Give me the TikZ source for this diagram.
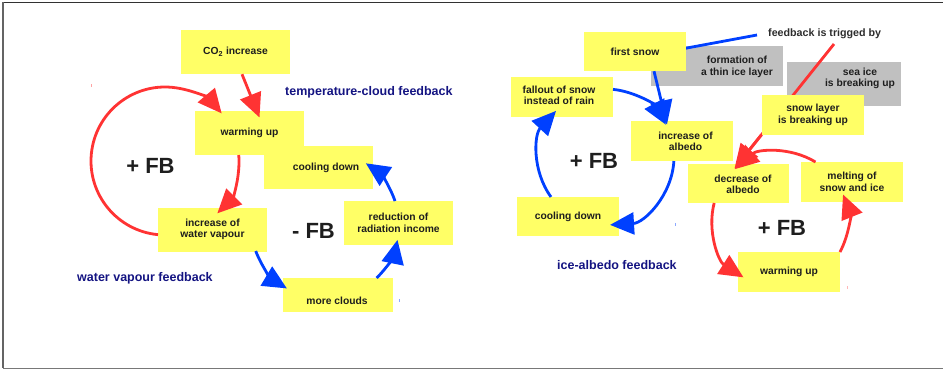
\documentclass[tikz,border=0pt]{standalone}
\usepackage{fontspec}
\setmainfont{Liberation Sans}
\usetikzlibrary{arrows.meta,calc}

\definecolor{noteyellow}{RGB}{255,255,102}
\definecolor{notegray}{RGB}{192,192,192}
\definecolor{fbred}{RGB}{255,51,51}
\definecolor{fbblue}{RGB}{0,64,255}
\definecolor{titlenavy}{RGB}{20,20,130}
\definecolor{inktext}{RGB}{30,30,30}
\definecolor{trigink}{RGB}{45,45,45}

\newcommand\cardfont{\fontsize{10.3}{11.6}\selectfont\bfseries}
\newcommand\titlefont{\fontsize{12.5}{14}\selectfont\bfseries}
\newcommand\fbfont{\fontsize{22}{24}\selectfont\bfseries}

\tikzset{
  card/.style={fill=noteyellow, inner sep=0pt, align=center, text=inktext, font=\cardfont},
  slab/.style={fill=notegray, inner sep=0pt},
  cardtext/.style={inner sep=0pt, align=center, text=inktext, font=\cardfont},
  looptitle/.style={inner sep=0pt, anchor=west, text=titlenavy, font=\titlefont},
  fblabel/.style={inner sep=0pt, text=inktext, font=\fbfont},
  bigtip/.style={-{Triangle[length=24pt,width=22pt]}},
  redarrow/.style={draw=fbred, line width=2.8pt, bigtip},
  bluearrow/.style={draw=fbblue, line width=2.8pt, bigtip},
  redline/.style={draw=fbred, line width=2.8pt},
  blueline/.style={draw=fbblue, line width=2.8pt},
}

\begin{document}
\begin{tikzpicture}[x=1pt, y=-1pt]
\useasboundingbox (0,0) rectangle (943,369);

% frame
\draw[line width=1.3pt, draw={rgb,255:red,50;green,50;blue,50}] (943,2.5) -- (3,2.5);
\draw[line width=1.3pt, draw={rgb,255:red,100;green,100;blue,100}] (3,2.5) -- (3,368.3);
\draw[line width=1.3pt, draw={rgb,255:red,120;green,120;blue,120}] (3,368.3) -- (943,368.3);

% loop centres
\coordinate (cL) at (165,161);
\coordinate (cM) at (325,225);
\coordinate (cA) at (606,157);
\coordinate (cB) at (780,220);

% ---------------- grey trigger notes ----------------
\node[slab, minimum width=132pt, minimum height=40pt] (thin) at (717,66) {};
\node[cardtext] (thintxt) at (737,67) {formation of\\a thin ice layer};
\node[slab, minimum width=114pt, minimum height=44pt] (seaice) at (844,84) {};
\node[cardtext] (seaicetxt) at (860,78.5) {sea ice\\is breaking up};

\node[inner sep=0pt, anchor=west, text=trigink, font=\fontsize{10.7}{12}\selectfont\bfseries] (trig) at (768,34) {feedback is trigged by};
\coordinate (trigblue) at (757,35);
\coordinate (trigred) at (834,44);
\coordinate (bluein) at (640,56.7);
\coordinate (redtip) at (734.5,168.5);
\coordinate (redout) at ($(trigred)!0.731!(redtip)$);

% trigger lines run behind the yellow notes
\draw[blueline] (trigblue) -- (bluein);
\draw[redline] (trigred) -- (redtip);

% ---------------- yellow notes, left ----------------
\node[card, minimum width=109pt, minimum height=44pt] (co2) at (235.5,52) {CO\textsubscript{2} increase};
\node[card, minimum width=109pt, minimum height=43pt] (coolL) at (318.5,167.5) {};
\node[card, minimum width=109pt, minimum height=44pt] (warmL) at (249.5,133) {warming up};
\node[cardtext] (coolLtxt) at (326,168) {cooling down};
\node[card, minimum width=109pt, minimum height=44pt] (vapour) at (212.5,229.5) {increase of\\water vapour};
\node[card, minimum width=109pt, minimum height=44pt] (reduct) at (398.5,223) {reduction of\\radiation income};
\node[card, minimum width=110pt, minimum height=34pt] (clouds) at (338,295) {};
\node[cardtext] (cloudstxt) at (337,300.5) {more clouds};

% ---------------- yellow notes, right ----------------
\node[card, minimum width=102pt, minimum height=39pt] (snowfirst) at (635,51.5) {first snow};
\node[card, minimum width=102pt, minimum height=40pt] (snowlayer) at (813,115) {snow layer\\is breaking up};
\node[card, minimum width=102pt, minimum height=40pt] (fallout) at (562,97) {};
\node[cardtext] (fallouttxt) at (559,95.5) {fallout of snow\\instead of rain};
\node[card, minimum width=102pt, minimum height=40pt] (incalb) at (682,141) {};
\node[cardtext] (incalbtxt) at (685.5,141.5) {increase of\\albedo};
\node[card, minimum width=102pt, minimum height=39pt] (coolR) at (568,216.5) {cooling down};
\node[card, minimum width=101pt, minimum height=39pt] (decalb) at (738.5,183.5) {};
\node[cardtext] (decalbtxt) at (743,184.5) {decrease of\\albedo};
\node[card, minimum width=102pt, minimum height=40pt] (melt) at (852,182) {melting of\\snow and ice};
\node[card, minimum width=102pt, minimum height=40pt] (warmR) at (789,272) {warming up};

% ---------------- water vapour loop (+) ----------------
\draw[redarrow] (co2.south -| 242,0) -- (259.5,117.5) coordinate (co2tip);
\draw[redarrow] ($(cL)+(-264.6:74)$) arc[start angle=-264.6, end angle=-40, radius=74];
\draw[redarrow] ($(cL)+(-4.65:74)$) arc[start angle=-4.65, end angle=45, radius=74];

% ---------------- temperature-cloud loop (-) ----------------
\draw[bluearrow] ($(cM)+(-200.6:74)$) arc[start angle=-200.6, end angle=-239, radius=74];
\draw[bluearrow] ($(cM)+(-314.3:74)$) arc[start angle=-314.3, end angle=-348.4, radius=74];
\draw[bluearrow] ($(cM)+(-18.9:74)$) arc[start angle=-18.9, end angle=-56.5, radius=74];

% ---------------- ice-albedo loop (+) ----------------
\draw[bluearrow] (snowfirst.south -| 654,0) -- (667,124.5) coordinate (snowtip);
\draw[bluearrow] ($(cA)+(-84.1:68)$) arc[start angle=-84.1, end angle=-28.4, radius=68];
\draw[bluearrow] ($(cA)+(3.4:68)$) arc[start angle=3.4, end angle=86.6, radius=68];
\draw[bluearrow] ($(cA)+(-216:68)$) arc[start angle=-216, end angle=-137.3, radius=68];

% ---------------- melting loop (+) ----------------
\draw[redarrow] (redout) -- (redtip);
\draw[redarrow] ($(cB)+(-58.5:68)$) arc[start angle=-58.5, end angle=-131.6, radius=68];
\draw[redarrow] ($(cB)+(-165.5:68)$) arc[start angle=-165.5, end angle=-237.5, radius=68];
\draw[redarrow] ($(cB)+(28.1:68)$) arc[start angle=28.1, end angle=-22, radius=68];

% ---------------- loop labels ----------------
\node[fblabel] (fbL) at (150.5,166) {+ FB};
\node[fblabel] (fbM) at (313.5,231) {- FB};
\node[fblabel] (fbA) at (594,161) {+ FB};
\node[fblabel] (fbB) at (782,228) {+ FB};

\node[looptitle] (ttc) at (285,92.5) {temperature-cloud feedback};
\node[looptitle] (twv) at (77,278.5) {water vapour feedback};
\node[looptitle] (tia) at (557,265.5) {ice-albedo feedback};

% small stray marks
\fill[fbred!45] (90.5,84.5) rectangle ++(1.2,3);
\fill[fbblue!45] (398.5,298.5) rectangle ++(1.2,3);
\fill[fbblue!45] (674.5,222.5) rectangle ++(1.2,3);
\fill[fbred!35] (846.5,285.5) rectangle ++(1.2,3);
\end{tikzpicture}
\end{document}
